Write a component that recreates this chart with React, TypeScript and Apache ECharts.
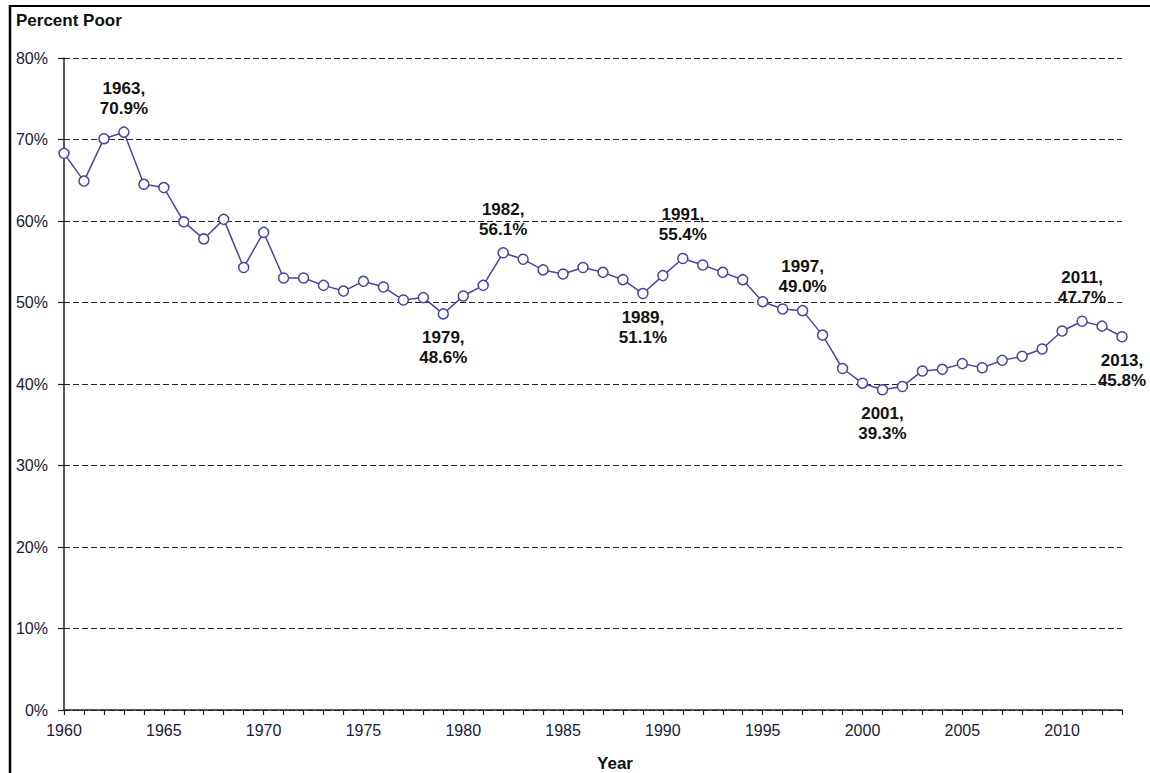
import React, { useEffect, useRef } from "react";
import * as echarts from "echarts";

const years: number[] = [
  1960, 1961, 1962, 1963, 1964, 1965, 1966, 1967, 1968, 1969,
  1970, 1971, 1972, 1973, 1974, 1975, 1976, 1977, 1978, 1979,
  1980, 1981, 1982, 1983, 1984, 1985, 1986, 1987, 1988, 1989,
  1990, 1991, 1992, 1993, 1994, 1995, 1996, 1997, 1998, 1999,
  2000, 2001, 2002, 2003, 2004, 2005, 2006, 2007, 2008, 2009,
  2010, 2011, 2012, 2013,
];

const percentPoor: number[] = [
  68.3, 64.9, 70.1, 70.9, 64.5, 64.1, 59.9, 57.8, 60.2, 54.3,
  58.6, 53.0, 53.0, 52.1, 51.4, 52.6, 51.9, 50.3, 50.6, 48.6,
  50.8, 52.1, 56.1, 55.3, 54.0, 53.5, 54.3, 53.7, 52.8, 51.1,
  53.3, 55.4, 54.6, 53.7, 52.8, 50.1, 49.2, 49.0, 46.0, 41.9,
  40.1, 39.3, 39.7, 41.6, 41.8, 42.5, 42.0, 42.9, 43.4, 44.3,
  46.5, 47.7, 47.1, 45.8,
];

const annotatedYears: number[] = [1963, 1979, 1982, 1989, 1991, 1997, 2001, 2011, 2013];
const annotatedPositions: string[] = ["top", "bottom", "top", "bottom", "top", "top", "bottom", "top", "bottom"];

const yTicks: number[] = [0, 10, 20, 30, 40, 50, 60, 70, 80];

const LINE_COLOR = "#4646a0";
const FONT = "'Liberation Sans', Arial, sans-serif";

export default function App() {
  const ref = useRef<HTMLDivElement>(null);

  useEffect(() => {
    if (!ref.current) return;
    const chart = echarts.init(ref.current, undefined, { renderer: "svg" });

    const data = years.map((y, i) => {
      const idx = annotatedYears.indexOf(y);
      if (idx >= 0) {
        return {
          value: [y, percentPoor[i]],
          label: {
            show: true,
            position: annotatedPositions[idx],
            distance: 8,
            formatter: `${y},\n${percentPoor[i].toFixed(1)}%`,
          },
        };
      }
      return { value: [y, percentPoor[i]] };
    });

    chart.setOption({
      animation: false,
      backgroundColor: "#ffffff",
      grid: { left: 64, right: 28, top: 58, bottom: 63, containLabel: false },
      xAxis: {
        type: "value",
        min: 1960,
        max: 2013,
        interval: 1,
        axisLine: { show: true, lineStyle: { color: "#222", width: 1.5 } },
        axisTick: { show: true, length: 5, inside: false, lineStyle: { color: "#222", width: 1.2 } },
        splitLine: { show: false },
        axisLabel: {
          margin: 12,
          fontSize: 16,
          fontFamily: FONT,
          color: "#1a1a3a",
          formatter: (v: number) => (v % 5 === 0 ? String(v) : ""),
        },
      },
      yAxis: {
        type: "value",
        min: yTicks[0],
        max: yTicks[yTicks.length - 1],
        interval: 10,
        axisLine: { show: true, lineStyle: { color: "#222", width: 1.5 } },
        axisTick: { show: true, length: 6, lineStyle: { color: "#222", width: 1.2 } },
        splitLine: { show: true, lineStyle: { color: "#222", type: [6, 3], width: 1 } },
        axisLabel: {
          margin: 16,
          fontSize: 16,
          fontFamily: FONT,
          color: "#1a1a3a",
          formatter: (v: number) => `${v}%`,
        },
      },
      series: [
        {
          type: "line",
          data,
          symbol: "circle",
          symbolSize: 10,
          lineStyle: { color: LINE_COLOR, width: 1.5 },
          itemStyle: { color: "#ffffff", borderColor: LINE_COLOR, borderWidth: 1.5 },
          label: {
            show: false,
            color: "#111",
            fontWeight: "bold",
            fontSize: 17,
            lineHeight: 20,
            fontFamily: FONT,
            align: "center",
          },
          emphasis: { disabled: true },
          z: 3,
        },
      ],
      graphic: [
        {
          type: "line",
          shape: { x1: 9, y1: 6, x2: 1150, y2: 6 },
          style: { stroke: "#000", lineWidth: 2 },
        },
        {
          type: "line",
          shape: { x1: 10, y1: 5, x2: 10, y2: 773 },
          style: { stroke: "#000", lineWidth: 2.5 },
        },
        {
          type: "text",
          left: 16,
          top: 12,
          style: {
            text: "Percent Poor",
            fontSize: 17,
            fontWeight: "bold",
            fontFamily: FONT,
            fill: "#111",
          },
        },
        {
          type: "text",
          x: 615,
          y: 763,
          style: {
            text: "Year",
            fontSize: 17,
            fontWeight: "bold",
            fontFamily: FONT,
            fill: "#111",
            align: "center",
            verticalAlign: "middle",
          },
        },
      ],
    });

    return () => chart.dispose();
  }, []);

  return (
    <div
      ref={ref}
      style={{ position: "absolute", left: 0, top: 0, width: 1150, height: 773 }}
    />
  );
}
